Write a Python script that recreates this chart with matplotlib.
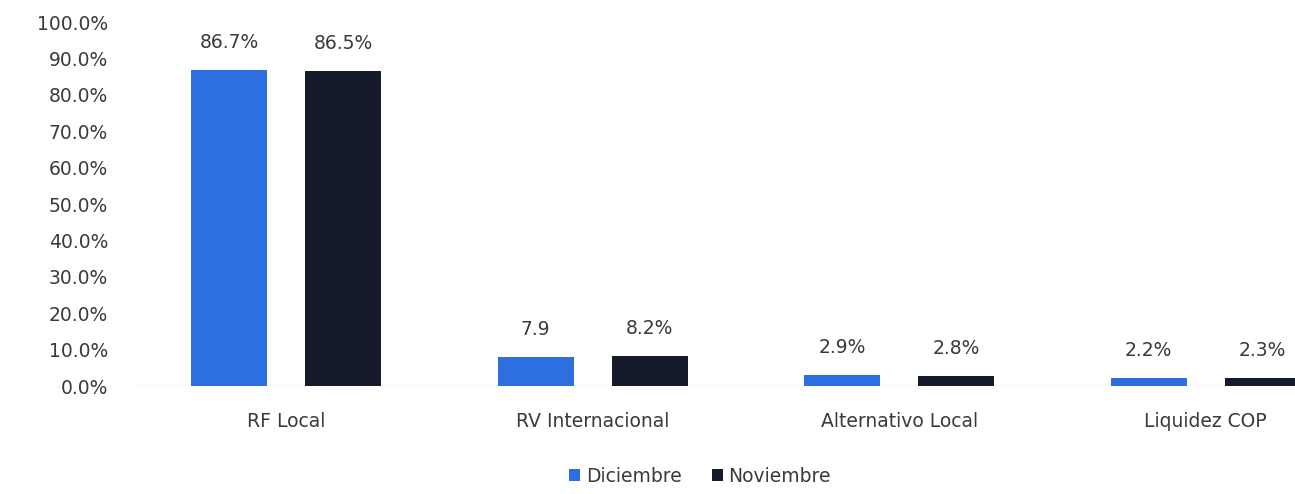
import matplotlib.pyplot as plt
import numpy as np

# data
categories = ["RF Local", "RV Internacional", "Alternativo Local", "Liquidez COP"]
diciembre = [86.7, 7.9, 2.9, 2.2]
noviembre = [86.5, 8.2, 2.8, 2.3]
lab_dic = ["86.7%", "7.9", "2.9%", "2.2%"]
lab_nov = ["86.5%", "8.2%", "2.8%", "2.3%"]

blue = "#2D6FE0"
navy = "#161B2C"
txt = "#3a3a3a"

plt.rcParams["font.family"] = ["DejaVu Sans"]

fig = plt.figure(figsize=(12.95, 4.94), dpi=100)
# axes runs past the right edge on purpose, the original is cropped there
ax = fig.add_axes([133 / 1295, 108 / 494, 1226 / 1295, 364 / 494])

x = np.arange(len(categories))
off = 0.186
w = 0.248
b1 = ax.bar(x - off, diciembre, w, color=blue, label="Diciembre")
b2 = ax.bar(x + off, noviembre, w, color=navy, label="Noviembre")

for bars, labs in [(b1, lab_dic), (b2, lab_nov)]:
    for r, t in zip(bars, labs):
        ax.annotate(t, (r.get_x() + r.get_width() / 2, r.get_height()),
                    xytext=(0, 13), textcoords="offset points",
                    ha="center", va="bottom", fontsize=13.5, color=txt)

ax.set_xlim(-0.5, 3.5)
ax.set_ylim(0, 100)
ax.set_yticks(np.arange(0, 101, 10))
ax.set_yticklabels([f"{v:.1f}%" for v in range(0, 101, 10)])
ax.set_xticks(x)
ax.set_xticklabels(categories)
ax.tick_params(axis="both", length=0, labelsize=13.5, colors=txt)
ax.tick_params(axis="x", pad=19)
ax.tick_params(axis="y", pad=18)
for s in ax.spines.values():
    s.set_visible(False)
ax.axhline(0, color="#e4e4e4", lw=1, zorder=0)

fig.legend(handles=[b1, b2], loc="center", bbox_to_anchor=(700 / 1295, 18 / 494),
           ncol=2, frameon=False, fontsize=13.5, handlelength=0.6, handleheight=0.6,
           handletextpad=0.3, columnspacing=1.6, labelcolor=txt)

fig.savefig("out.png", dpi=100)
